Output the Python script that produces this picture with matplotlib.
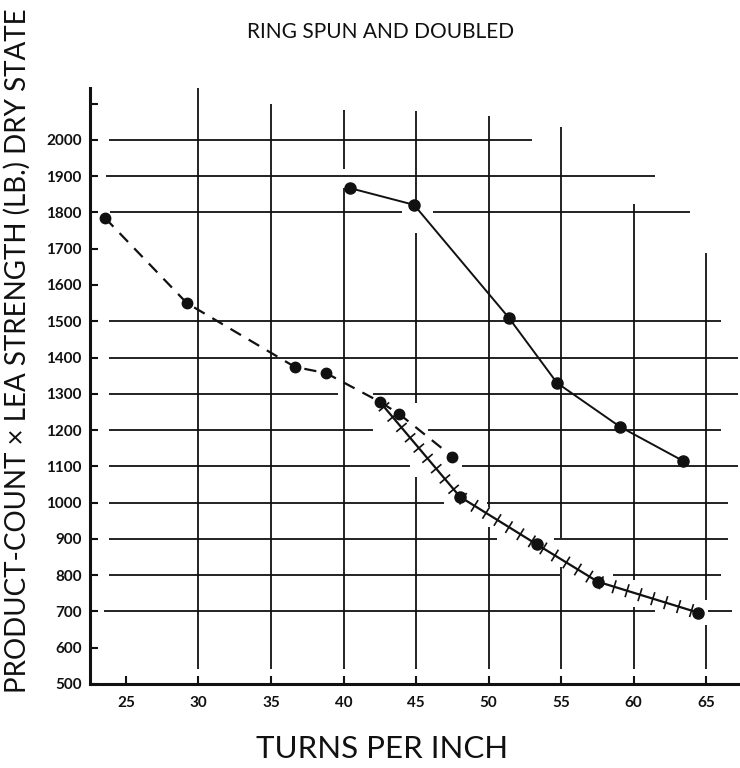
import numpy as np
import matplotlib.pyplot as plt
import matplotlib.patheffects as pe

# readings: turns per inch vs product-count x lea strength
dashed_tpi = [23.55, 29.2, 36.65, 38.8, 42.5, 43.85, 47.5]
dashed_str = [1785, 1550, 1374, 1357, 1278, 1244, 1127]

solid_tpi = [40.45, 44.86, 51.41, 54.72, 59.07, 63.41]
solid_str = [1867, 1821, 1509, 1330, 1209, 1115]

crossed_tpi = [42.5, 48.03, 53.32, 57.53, 64.43]
crossed_str = [1278, 1016, 885, 782, 697]

x_ticks = [25, 30, 35, 40, 45, 50, 55, 60, 65]
y_ticks = list(range(500, 2200, 100))
y_labels = [str(v) if v <= 2000 else "" for v in y_ticks]

# hand-ruled grid: pieces of each line (gaps left where the curves cross)
h_grid = {
    2000: [(23.8, 53.0)],
    1900: [(23.6, 61.5)],
    1800: [(23.9, 44.0), (46.2, 63.9)],
    1500: [(23.8, 66.0)],
    1400: [(23.8, 67.2)],
    1300: [(23.8, 39.6), (42.0, 67.2)],
    1200: [(23.8, 42.0), (45.8, 66.0)],
    1100: [(23.8, 44.6), (48.2, 67.2)],
    1000: [(23.8, 46.9), (49.9, 66.5)],
    900: [(23.8, 50.6), (54.5, 66.5)],
    800: [(23.8, 54.9), (58.6, 66.0)],
    700: [(23.5, 61.5), (65.1, 66.8)],
}
v_grid = {
    30: [(540, 2177)],
    35: [(540, 2099)],
    40: [(540, 1868), (1920, 2083)],
    45: [(540, 1071), (1275, 1743), (1815, 2079)],
    50: [(540, 933), (988, 2065)],
    55: [(540, 822), (902, 2035)],
    60: [(540, 713), (787, 1822)],
    65: [(540, 663), (731, 1687)],
}

ink = "#111111"
plt.rcParams["font.family"] = ["Lato", "DejaVu Sans"]

fig = plt.figure(figsize=(7.4, 7.68), dpi=100)
ax = fig.add_axes([0.1216, 0.1094, 0.8757, 0.776])

for yv, pieces in h_grid.items():
    for x0, x1 in pieces:
        ax.plot([x0, x1], [yv, yv], color=ink, lw=1.3, zorder=1, solid_capstyle="butt")
for xv, pieces in v_grid.items():
    for y0, y1 in pieces:
        ax.plot([xv, xv], [y0, y1], color=ink, lw=1.3, zorder=1, solid_capstyle="butt")

# dashed curve
ax.plot(dashed_tpi, dashed_str, color=ink, lw=1.6, dashes=(5.5, 4.0), zorder=3)
ax.plot(dashed_tpi, dashed_str, "o", color=ink, ms=7.5, zorder=4)

# upper solid curve
ax.plot(solid_tpi, solid_str, color=ink, lw=1.4, zorder=3)
ax.plot(solid_tpi, solid_str, "o", color=ink, ms=8, zorder=4)

# crossed curve
ax.plot(crossed_tpi, crossed_str, color=ink, lw=1.6, zorder=3,
        path_effects=[pe.Normal(),
                      pe.TickedStroke(spacing=9.5, angle=90, length=0.45, linewidth=1.2),
                      pe.TickedStroke(spacing=9.5, angle=-90, length=0.45, linewidth=1.2)])
ax.plot(crossed_tpi[1:], crossed_str[1:], "o", color=ink, ms=8, zorder=4)

ax.set_xlim(22.52, 67.2)
ax.set_ylim(500, 2143)

for side in ["top", "right"]:
    ax.spines[side].set_visible(False)
for side in ["left", "bottom"]:
    ax.spines[side].set_linewidth(2.2)
    ax.spines[side].set_color(ink)

ax.set_xticks(x_ticks)
ax.set_xticklabels([str(v) for v in x_ticks])
ax.set_yticks(y_ticks)
ax.set_yticklabels(y_labels)
ax.tick_params(axis="both", direction="in", length=6, width=1.5, color=ink,
               labelsize=11, labelcolor=ink)
ax.tick_params(axis="x", pad=9)
ax.tick_params(axis="y", pad=6)
for lab in ax.get_xticklabels() + ax.get_yticklabels():
    lab.set_fontweight("bold")

fig.text(0.514, 0.958, "RING SPUN AND DOUBLED", ha="center", va="center",
         fontsize=15, color=ink)
fig.text(0.516, 0.025, "TURNS PER INCH", ha="center", va="center",
         fontsize=22.5, color=ink)
fig.text(0.024, 0.543, "PRODUCT-COUNT \u00d7 LEA STRENGTH (LB.) DRY STATE",
         rotation=90, ha="center", va="center", fontsize=20, color=ink)

fig.savefig("out.png", dpi=100, facecolor="white")
